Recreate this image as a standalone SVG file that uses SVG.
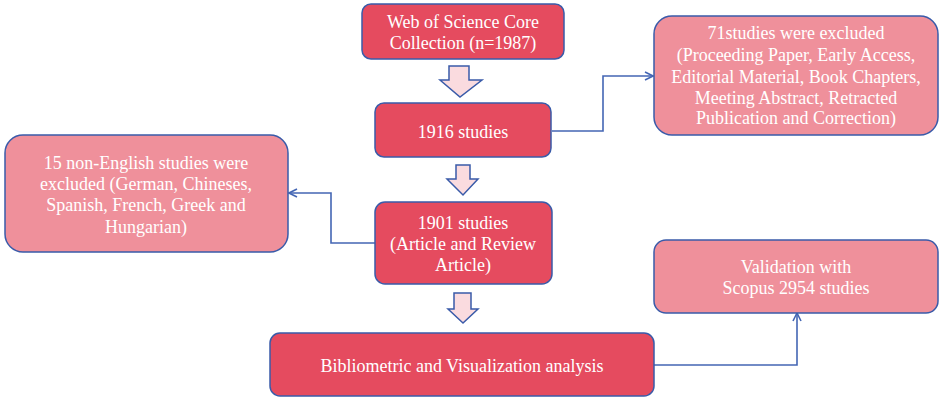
<svg xmlns="http://www.w3.org/2000/svg" width="943" height="401" viewBox="0 0 943 401">
<defs>
<style>
.dark{fill:#E54B5F;stroke:#3A5BA9;stroke-width:1.5}
.light{fill:#EF909B;stroke:#3A5BA9;stroke-width:1.5}
.blk{fill:#FADBDF;stroke:#3A5BA9;stroke-width:1.5;stroke-linejoin:miter}
.t{font-family:"Liberation Serif","Times New Roman",serif;font-size:18px;fill:#FFFFFF;text-anchor:middle}
.c{fill:none;stroke:#4466B4;stroke-width:1.6}
</style>
<marker id="ah" viewBox="0 0 10 10" refX="9" refY="5" markerWidth="10" markerHeight="10" markerUnits="userSpaceOnUse" orient="auto">
<path d="M1,1 L9,5 L1,9" fill="none" stroke="#4466B4" stroke-width="1.6"/>
</marker>
</defs>
<rect width="943" height="401" fill="#FFFFFF"/>
<g id="connectors">
<polyline class="c" points="552,131 603,131 603,76 653,76" marker-end="url(#ah)"/>
<polyline class="c" points="375,243 331,243 331,193 289,193" marker-end="url(#ah)"/>
<polyline class="c" points="654,365 797,365 797,313" marker-end="url(#ah)"/>
<path class="blk" d="M449,66 H469 V80 H482 L460,97 L440,80 H449 Z"/>
<path class="blk" d="M456,165 H470 V179 H478 L463,195 L447,179 H456 Z"/>
<path class="blk" d="M454,293 H471 V309 H478 L463,323 L448,309 H454 Z"/>
</g>
<g id="node-wos">
<rect class="dark" x="362" y="4" width="202" height="55" rx="9"/>
<text class="t" x="463" y="28">Web of Science Core</text>
<text class="t" x="463" y="49">Collection (n=1987)</text>
</g>
<g id="node-1916">
<rect class="dark" x="375" y="103" width="176" height="54" rx="9"/>
<text class="t" x="463" y="138">1916 studies</text>
</g>
<g id="node-1901">
<rect class="dark" x="375" y="202" width="177" height="82" rx="10"/>
<text class="t" x="463" y="229">1901 studies</text>
<text class="t" x="463" y="250">(Article and Review</text>
<text class="t" x="463" y="271">Article)</text>
</g>
<g id="node-biblio">
<rect class="dark" x="270" y="333" width="384" height="63" rx="10"/>
<text class="t" x="462" y="372">Bibliometric and Visualization analysis</text>
</g>
<g id="node-71">
<rect class="light" x="654" y="16" width="284" height="119" rx="18"/>
<text class="t" x="796" y="39">71studies were excluded</text>
<text class="t" x="796" y="61">(Proceeding Paper, Early Access,</text>
<text class="t" x="796" y="83">Editorial Material, Book Chapters,</text>
<text class="t" x="796" y="104">Meeting Abstract, Retracted</text>
<text class="t" x="796" y="124">Publication and Correction)</text>
</g>
<g id="node-15">
<rect class="light" x="5" y="135" width="283" height="117" rx="18"/>
<text class="t" x="146" y="169">15 non-English studies were</text>
<text class="t" x="146" y="190">excluded (German, Chineses,</text>
<text class="t" x="146" y="211">Spanish, French, Greek and</text>
<text class="t" x="146" y="233">Hungarian)</text>
</g>
<g id="node-validation">
<rect class="light" x="654" y="240" width="284" height="73" rx="12"/>
<text class="t" x="796" y="273">Validation with</text>
<text class="t" x="796" y="294">Scopus 2954 studies</text>
</g>
</svg>
